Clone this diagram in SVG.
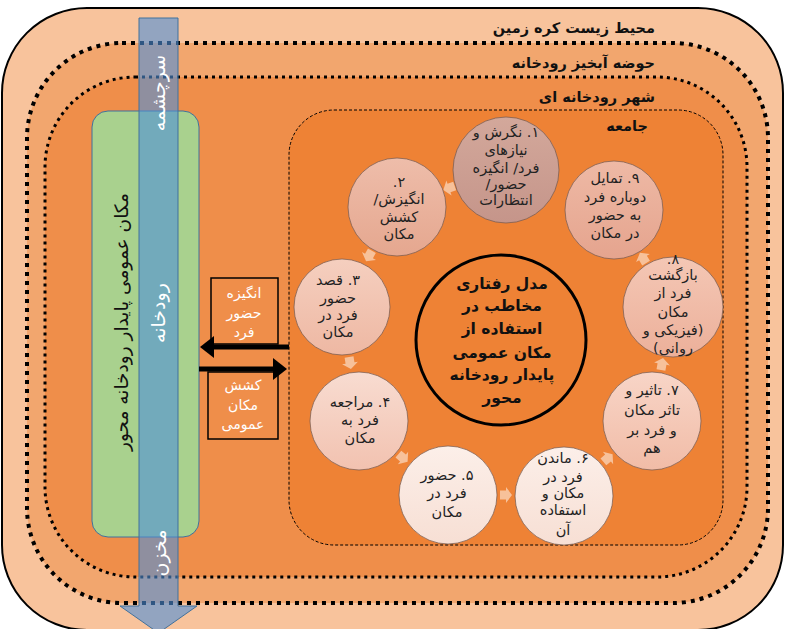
<svg xmlns="http://www.w3.org/2000/svg" xmlns:xlink="http://www.w3.org/1999/xlink" width="786" height="629" viewBox="0 0 786 629">
<style>
.fa { font-family: "DejaVu Sans", sans-serif; direction: rtl; }
.title { font-size: 14.5px; font-weight: bold; fill: #111; text-anchor: start; }
.ct { font-size: 14.5px; fill: #222; text-anchor: middle; }
.cc { font-size: 15.5px; font-weight: bold; fill: #111; text-anchor: middle; }
.wt { font-size: 14px; fill: #fff; text-anchor: middle; }
.vt { font-size: 19px; fill: #fff; text-anchor: middle; dominant-baseline: central; }
.circ { stroke: #7a5a4c; stroke-width: 1; stroke-opacity: 0.75; }
.sa { fill: #fff; fill-opacity: 0.5; }
.conn { stroke: #000; stroke-width: 5; fill: none; marker-end: url(#ah); }
.box { fill: none; stroke: #000; stroke-width: 1.5; }
</style>
<defs>
<marker id="ah" markerUnits="userSpaceOnUse" markerWidth="14" markerHeight="22" refX="8" refY="11" orient="auto">
<path d="M0,0 L14,11 L0,22 Z" fill="#000"/>
</marker>
<path id="sa" d="M-6,-4.5 L0,-4.5 L0,-8 L6,0 L0,8 L0,4.5 L-6,4.5 Z"/>
<linearGradient id="g1" x1="0" y1="0" x2="0" y2="1"><stop offset="0" stop-color="#D3A89B"/><stop offset="1" stop-color="#C5958A"/></linearGradient>
<linearGradient id="g2" x1="0" y1="0" x2="0" y2="1"><stop offset="0" stop-color="#EEBDAA"/><stop offset="1" stop-color="#E5A78F"/></linearGradient>
<linearGradient id="g3" x1="0" y1="0" x2="0" y2="1"><stop offset="0" stop-color="#F5CFBF"/><stop offset="1" stop-color="#EEB8A3"/></linearGradient>
<linearGradient id="g4" x1="0" y1="0" x2="0" y2="1"><stop offset="0" stop-color="#F8DCD1"/><stop offset="1" stop-color="#F2C2B0"/></linearGradient>
<linearGradient id="g5" x1="0" y1="0" x2="0" y2="1"><stop offset="0" stop-color="#FCEFE9"/><stop offset="1" stop-color="#F7DFD4"/></linearGradient>
<linearGradient id="g7" x1="0" y1="0" x2="0" y2="1"><stop offset="0" stop-color="#F8D5C7"/><stop offset="1" stop-color="#F1BCA7"/></linearGradient>
<linearGradient id="g8" x1="0" y1="0" x2="0" y2="1"><stop offset="0" stop-color="#F4C7B5"/><stop offset="1" stop-color="#ECB09A"/></linearGradient>
<linearGradient id="g9" x1="0" y1="0" x2="0" y2="1"><stop offset="0" stop-color="#EEB9A5"/><stop offset="1" stop-color="#E5A48E"/></linearGradient>
</defs>

<g id="layers">
<rect id="biosphere" x="2" y="8" width="781" height="622" rx="85" fill="#F8C39C" stroke="#000" stroke-width="2"/>
<rect id="watershed" x="27" y="43" width="741" height="560" rx="95" fill="#F2A66E" stroke="#000" stroke-width="4" stroke-dasharray="4 5"/>
<rect id="city" x="45" y="77" width="702" height="500" rx="90" fill="#EF8E4A" stroke="#000" stroke-width="3" stroke-dasharray="3 4"/>
<rect id="community" x="289" y="110" width="434" height="435" rx="45" fill="#EE8235" stroke="#000" stroke-width="1" stroke-dasharray="3 2"/>
<text class="fa title" x="655" y="33">محیط زیست کره زمین</text>
<text class="fa title" x="655" y="68">حوضه آبخیز رودخانه</text>
<text class="fa title" x="655" y="102">شهر رودخانه ای</text>
<text class="fa title" x="648" y="131">جامعه</text>
</g>

<g id="place">
<rect x="92" y="111" width="107" height="426" rx="16" fill="#A9D18E" stroke="#41719C" stroke-width="1"/>
<text class="fa" x="0" y="0" transform="translate(121,322) rotate(-90)" font-size="18.5" fill="#111" text-anchor="middle" dominant-baseline="central">مکان عمومی پایدار رودخانه محور</text>
</g>

<g id="river">
<path d="M139,18 L178,18 L178,606 L197,606 L158.5,633 L120,606 L139,606 Z" fill="#4F8FD8" fill-opacity="0.6" stroke="#41719C" stroke-width="1"/>
<text class="fa vt" transform="translate(158,93) rotate(-90)">سرچشمه</text>
<text class="fa vt" transform="translate(158,313) rotate(-90)">رودخانه</text>
<text class="fa vt" transform="translate(159,553) rotate(-90)">مخزن</text>
</g>

<g id="box-motivation">
<rect class="box" x="211" y="278" width="67" height="66"/>
<text class="fa wt"><tspan x="244" y="298">انگیزه</tspan><tspan x="244" y="318">حضور</tspan><tspan x="244" y="337">فرد</tspan></text>
</g>
<g id="box-attraction">
<rect class="box" x="208" y="372" width="70" height="67"/>
<text class="fa wt"><tspan x="243" y="390">کشش</tspan><tspan x="243" y="410">مکان</tspan><tspan x="243" y="429">عمومی</tspan></text>
</g>

<g id="connectors">
<line class="conn" x1="289" y1="347" x2="206" y2="347"/>
<line class="conn" x1="199" y1="369" x2="281" y2="369"/>
<use href="#sa" class="sa" transform="translate(449,188) rotate(161)"/>
<use href="#sa" class="sa" transform="translate(369,256) rotate(119)"/>
<use href="#sa" class="sa" transform="translate(350,363) rotate(81)"/>
<use href="#sa" class="sa" transform="translate(403,458) rotate(40)"/>
<use href="#sa" class="sa" transform="translate(506,495) rotate(0)"/>
<use href="#sa" class="sa" transform="translate(608,458) rotate(-40)"/>
<use href="#sa" class="sa" transform="translate(662,364) rotate(-80)"/>
<use href="#sa" class="sa" transform="translate(643,258) rotate(-121)"/>
</g>

<g id="model">
<circle cx="501" cy="340" r="85" fill="none" stroke="#000" stroke-width="3"/>
<text class="fa cc"><tspan x="502" y="289">مدل رفتاری</tspan><tspan x="502" y="311">مخاطب در</tspan><tspan x="502" y="334">استفاده از</tspan><tspan x="502" y="358">مکان عمومی</tspan><tspan x="502" y="380">پایدار رودخانه</tspan><tspan x="502" y="403">محور</tspan></text>
</g>

<g id="step1">
<circle class="circ" cx="506" cy="170" r="53" fill="url(#g1)"/>
<text class="fa ct"><tspan x="506" y="137">۱. نگرش و</tspan><tspan x="506" y="155">نیازهای</tspan><tspan x="506" y="173">فرد/ انگیزه</tspan><tspan x="506" y="189">حضور/</tspan><tspan x="506" y="205">انتظارات</tspan></text>
</g>
<g id="step2">
<circle class="circ" cx="397" cy="207" r="49" fill="url(#g2)"/>
<text class="fa ct"><tspan x="399" y="187">۲.</tspan><tspan x="399" y="204">انگیزش/</tspan><tspan x="399" y="222">کشش</tspan><tspan x="399" y="239">مکان</tspan></text>
</g>
<g id="step3">
<circle class="circ" cx="342" cy="307" r="48" fill="url(#g3)"/>
<text class="fa ct"><tspan x="338" y="285">۳. قصد</tspan><tspan x="338" y="303">حضور</tspan><tspan x="338" y="320">فرد در</tspan><tspan x="338" y="337">مکان</tspan></text>
</g>
<g id="step4">
<circle class="circ" cx="359" cy="421" r="49" fill="url(#g4)"/>
<text class="fa ct"><tspan x="360" y="407">۴. مراجعه</tspan><tspan x="360" y="425">فرد به</tspan><tspan x="360" y="443">مکان</tspan></text>
</g>
<g id="step5">
<circle class="circ" cx="448" cy="495" r="49" fill="url(#g5)"/>
<text class="fa ct"><tspan x="447" y="480">۵. حضور</tspan><tspan x="447" y="498">فرد در</tspan><tspan x="447" y="517">مکان</tspan></text>
</g>
<g id="step6">
<circle class="circ" cx="564" cy="496" r="49" fill="url(#g5)"/>
<text class="fa ct"><tspan x="563" y="463">۶. ماندن</tspan><tspan x="563" y="482">فرد در</tspan><tspan x="563" y="498">مکان و</tspan><tspan x="563" y="515">استفاده</tspan><tspan x="563" y="535">آن</tspan></text>
</g>
<g id="step7">
<circle class="circ" cx="652" cy="421" r="49" fill="url(#g7)"/>
<text class="fa ct"><tspan x="652" y="395">۷. تاثیر و</tspan><tspan x="652" y="415">تاثر مکان</tspan><tspan x="652" y="435">و فرد بر</tspan><tspan x="652" y="453">هم</tspan></text>
</g>
<g id="step8">
<circle class="circ" cx="673" cy="307" r="50" fill="url(#g8)"/>
<text class="fa ct"><tspan x="673" y="264">۸.</tspan><tspan x="673" y="280">بازگشت</tspan><tspan x="673" y="298">فرد از</tspan><tspan x="673" y="317">مکان</tspan><tspan x="673" y="335">(فیزیکی و</tspan><tspan x="673" y="353">روانی)</tspan></text>
</g>
<g id="step9">
<circle class="circ" cx="614" cy="210" r="49" fill="url(#g9)"/>
<text class="fa ct"><tspan x="615" y="183">۹. تمایل</tspan><tspan x="615" y="202">دوباره فرد</tspan><tspan x="615" y="220">به حضور</tspan><tspan x="615" y="238">در مکان</tspan></text>
</g>
</svg>
